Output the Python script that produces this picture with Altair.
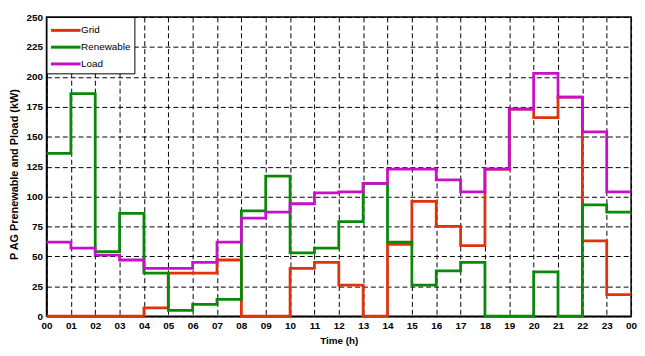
import altair as alt
import pandas as pd

hours = list(range(25))
hour_labels = ["00", "01", "02", "03", "04", "05", "06", "07", "08", "09", "10", "11",
               "12", "13", "14", "15", "16", "17", "18", "19", "20", "21", "22", "23", "00"]
grid = [0, 0, 0, 0, 7, 36, 36, 47, 0, 0, 40, 45, 26, 0, 60, 96, 75, 59, 123, 173, 166, 183, 63, 18, 18]
renewable = [136, 186, 54, 86, 36, 5, 10, 14, 88, 117, 53, 57, 79, 111, 62, 26, 38, 45, 0, 0, 37, 0, 93, 87, 87]
load = [62, 57, 51, 47, 40, 40, 45, 62, 82, 87, 94, 103, 104, 111, 123, 123, 114, 104, 123, 173, 203, 183, 154, 104, 104]
series_names = ["Grid", "Renewable", "Load"]
series_colors = ["#e0330c", "#0a880a", "#c810c8"]
y_ticks = list(range(0, 251, 25))

df = pd.DataFrame({"hour": hours, "Grid": grid, "Renewable": renewable, "Load": load})
long = df.melt(id_vars="hour", var_name="series", value_name="value")
order_map = {n: i for i, n in enumerate(series_names)}
long["order"] = long["series"].map(order_map)

label_expr = "[" + ",".join("'" + s + "'" for s in hour_labels) + "][datum.value]"

FONT = "Liberation Sans"

chart = alt.Chart(long).mark_line(interpolate="step-after", strokeWidth=2.8).encode(
    x=alt.X("hour:Q",
            scale=alt.Scale(domain=[0, 24], nice=False, zero=False),
            axis=alt.Axis(values=hours, labelExpr=label_expr, title="Time (h)",
                          grid=True, gridDash=[5, 3], gridColor="black", gridOpacity=1, gridWidth=1,
                          ticks=False, labelPadding=4, labelFontSize=10, labelFontWeight="bold",
                          labelFont=FONT, titleFont=FONT, titleFontSize=10, titleFontWeight="bold",
                          titlePadding=6, domainColor="black", domainWidth=1.5, labelColor="black",
                          titleColor="black", labelFlush=False)),
    y=alt.Y("value:Q",
            scale=alt.Scale(domain=[0, 250], nice=False),
            axis=alt.Axis(values=y_ticks, title="P  AG  Prenewable and Pload (kW)",
                          grid=True, gridDash=[5, 3], gridColor="black", gridOpacity=1, gridWidth=1,
                          ticks=False, labelPadding=4, labelFontSize=10, labelFontWeight="bold",
                          labelFont=FONT, titleFont=FONT, titleFontSize=11, titleFontWeight="bold",
                          titleX=-27, titleY=159, domainColor="black", domainWidth=1.5,
                          labelColor="black", titleColor="black")),
    color=alt.Color("series:N",
                    scale=alt.Scale(domain=series_names, range=series_colors),
                    sort=series_names,
                    legend=alt.Legend(title=None, orient="none", legendX=0, legendY=0,
                                      symbolType="M-1,0H2.33", symbolSize=324, symbolStrokeWidth=3,
                                      labelFont=FONT, labelFontSize=10, labelColor="black",
                                      strokeColor="black", fillColor="white", padding=3,
                                      rowPadding=0, labelOffset=11, cornerRadius=0)),
    order=alt.Order("order:Q"),
).properties(
    width=592, height=303,
    autosize=alt.AutoSizeParams(type="none"),
    padding={"left": 39, "top": 7, "right": 6, "bottom": 30},
).configure_view(
    stroke="black", strokeWidth=1.5
)

chart.save("out.html", embed_options={"renderer": "svg", "actions": False})
